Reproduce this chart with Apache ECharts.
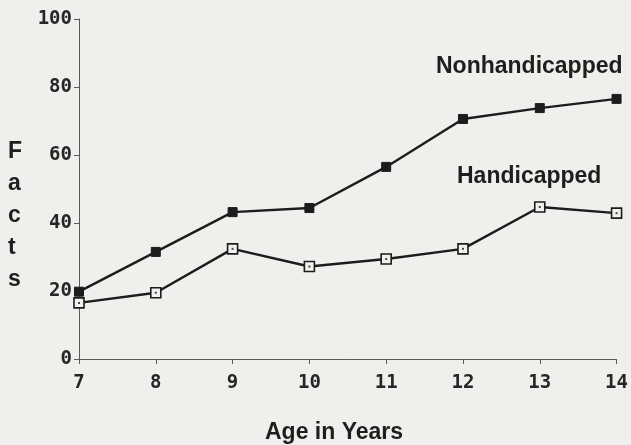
<!DOCTYPE html>
<html lang="en">
<head>
    <meta charset="UTF-8">
    <title>Facts by age</title>
    <style>
        html, body {
            margin: 0;
            height: 100%;
            background: #efefed;
        }
        #main {
            width: 631px;
            height: 445px;
        }
    </style>
    <script src="https://cdn.jsdelivr.net/npm/echarts@6/dist/echarts.min.js"></script>
</head>
<body>
    <div id="main"></div>
    <script>
        const ages = [7, 8, 9, 10, 11, 12, 13, 14]
        const nonhandicapped = [19.8, 31.5, 43.2, 44.4, 56.5, 70.6, 73.8, 76.5]
        const handicapped = [16.5, 19.5, 32.4, 27.2, 29.4, 32.4, 44.7, 42.9]

        const chart = echarts.init(document.getElementById('main'))

        const ink = '#1c1c1c'
        const tickFont = {
            fontFamily: 'DejaVu Sans Mono',
            fontWeight: 'bold',
            fontSize: 19,
            color: '#262626'
        }
        const titleFont = {
            fontFamily: 'Liberation Sans',
            fontWeight: 'bold',
            fontSize: 23,
            fill: '#1e1e1e'
        }

        function pairs (vals) {
            return ages.map((a, i) => [a, vals[i]])
        }

        chart.setOption({
            backgroundColor: '#efefed',
            animation: false,
            grid: { left: 79, right: 13, top: 19, bottom: 86 },
            xAxis: {
                type: 'value',
                min: 7,
                max: 14,
                interval: 1,
                splitLine: { show: false },
                axisLine: { lineStyle: { color: '#5a5a5a', width: 1 } },
                axisTick: { show: true, length: 5, lineStyle: { color: '#5a5a5a' } },
                axisLabel: Object.assign({ margin: 15 }, tickFont)
            },
            yAxis: {
                type: 'value',
                min: 0,
                max: 100,
                interval: 20,
                splitLine: { show: false },
                axisLine: { show: true, lineStyle: { color: '#5a5a5a', width: 1 } },
                axisTick: { show: true, length: 5, lineStyle: { color: '#5a5a5a' } },
                axisLabel: Object.assign({ margin: 7 }, tickFont)
            },
            series: [
                {
                    name: 'Nonhandicapped',
                    type: 'line',
                    data: pairs(nonhandicapped),
                    symbol: 'rect',
                    symbolSize: 9,
                    lineStyle: { color: ink, width: 2.4 },
                    itemStyle: { color: ink, borderColor: ink }
                },
                {
                    name: 'Handicapped',
                    type: 'line',
                    data: pairs(handicapped),
                    symbol: 'rect',
                    symbolSize: 10,
                    lineStyle: { color: ink, width: 2.4 },
                    itemStyle: { color: '#f0f0ee', borderColor: ink, borderWidth: 1.6 }
                },
                {
                    // centre dots of the hollow markers
                    type: 'scatter',
                    data: pairs(handicapped),
                    symbol: 'rect',
                    symbolSize: 2,
                    silent: true,
                    z: 5,
                    itemStyle: { color: ink }
                }
            ],
            graphic: [
                { type: 'text', left: 436, top: 55, style: Object.assign({ text: 'Nonhandicapped' }, titleFont) },
                { type: 'text', left: 457, top: 165, style: Object.assign({ text: 'Handicapped' }, titleFont) },
                { type: 'text', left: 265, top: 421, style: Object.assign({ text: 'Age in Years' }, titleFont) },
                {
                    type: 'text', left: 8, top: 136,
                    style: Object.assign({ text: 'F\na\nc\nt\ns', lineHeight: 32, align: 'center' }, titleFont)
                }
            ]
        })
    </script>
</body>
</html>
